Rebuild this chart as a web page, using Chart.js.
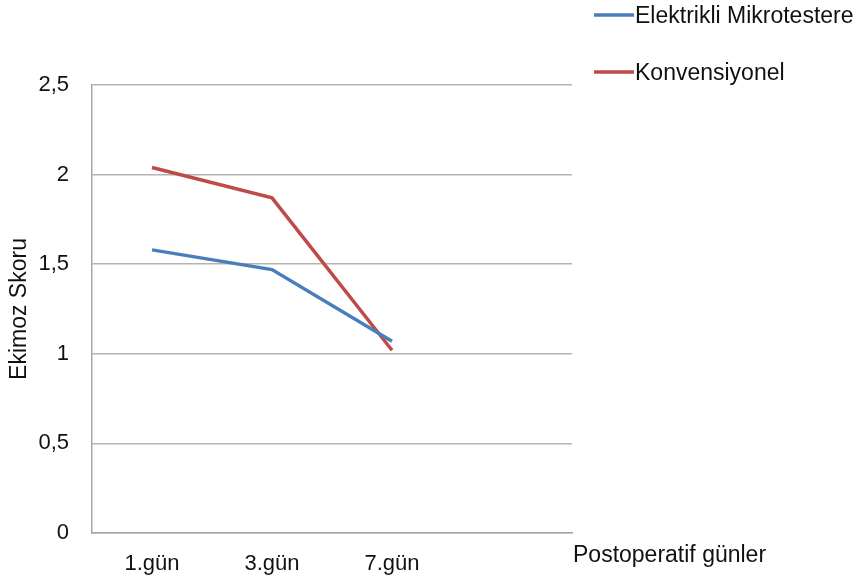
<!DOCTYPE html>
<html>
<head>
<meta charset="utf-8">
<script src="https://cdn.jsdelivr.net/npm/chart.js@4/dist/chart.umd.min.js"></script>
<style>
  html, body { margin: 0; padding: 0; background: #ffffff; }
  #wrap { width: 863px; height: 580px; position: relative; }
</style>
</head>
<body>
<div id="wrap"><canvas id="c" width="863" height="580"></canvas></div>
<script>
// Ekimoz skoru by postoperative day
const days = ['1.gün', '3.gün', '7.gün', ''];
const elektrikli = [1.58, 1.47, 1.07, null];
const konvansiyonel = [2.04, 1.87, 1.02, null];
const seriesNames = ['Elektrikli Mikrotestere', 'Konvensiyonel'];
const yTitle = 'Ekimoz Skoru';
const xTitle = 'Postoperatif günler';

const FONT = '"Liberation Sans", Arial, sans-serif';
const TICK_SIZE = 22;
const LABEL_SIZE = 23;
const TEXT = '#111111';

// Legend stacked at the top right, line swatch followed by the label
const sideLegend = {
  id: 'sideLegend',
  afterDraw(chart) {
    const ctx = chart.ctx;
    ctx.save();
    ctx.font = LABEL_SIZE + 'px ' + FONT;
    ctx.textBaseline = 'middle';
    ctx.textAlign = 'left';
    chart.data.datasets.forEach((ds, i) => {
      const y = 15 + i * 57;
      ctx.strokeStyle = ds.borderColor;
      ctx.lineWidth = 3.5;
      ctx.beginPath();
      ctx.moveTo(594, y);
      ctx.lineTo(634, y);
      ctx.stroke();
      ctx.fillStyle = TEXT;
      ctx.fillText(ds.label, 635, y + 2);
    });
    ctx.restore();
  }
};

// Horizontal axis title placed just past the right end of the axis
const xAxisTitle = {
  id: 'xAxisTitle',
  afterDraw(chart) {
    const xs = chart.scales.x;
    const ctx = chart.ctx;
    ctx.save();
    ctx.font = LABEL_SIZE + 'px ' + FONT;
    ctx.fillStyle = TEXT;
    ctx.textBaseline = 'middle';
    ctx.textAlign = 'left';
    ctx.fillText(xTitle, xs.right + 1, xs.top + 23);
    ctx.restore();
  }
};

new Chart(document.getElementById('c'), {
  type: 'line',
  data: {
    labels: days,
    datasets: [
      { label: seriesNames[0], data: elektrikli, borderColor: '#4a7ebb', backgroundColor: '#4a7ebb',
        borderWidth: 3.5, pointRadius: 0, tension: 0, spanGaps: false },
      { label: seriesNames[1], data: konvansiyonel, borderColor: '#be4b48', backgroundColor: '#be4b48',
        borderWidth: 3.5, pointRadius: 0, tension: 0, spanGaps: false }
    ]
  },
  options: {
    responsive: false,
    animation: false,
    devicePixelRatio: 1,
    layout: { padding: { top: 85, right: 291, left: 0, bottom: 0 } },
    plugins: {
      legend: { display: false },
      tooltip: { enabled: false }
    },
    scales: {
      x: {
        offset: true,
        grid: { display: false },
        border: { display: true, color: '#a6a6a6', width: 1.5 },
        ticks: { color: TEXT, font: { family: FONT, size: TICK_SIZE }, padding: 10, maxRotation: 0 },
        afterFit(scale) { scale.height = 47; }
      },
      y: {
        min: 0,
        max: 2.5,
        grid: { color: '#b3b3b3', lineWidth: 1.5, drawTicks: false },
        border: { display: true, color: '#a6a6a6', width: 1.5 },
        ticks: {
          stepSize: 0.5,
          color: TEXT,
          padding: 23,
          font: { family: FONT, size: TICK_SIZE },
          callback: v => String(v).replace('.', ',')
        },
        title: {
          display: true,
          text: yTitle,
          color: TEXT,
          font: { family: FONT, size: LABEL_SIZE },
          padding: { top: 6, bottom: 0 }
        },
        afterFit(scale) { scale.width = 92; }
      }
    }
  },
  plugins: [sideLegend, xAxisTitle]
});
</script>
</body>
</html>
